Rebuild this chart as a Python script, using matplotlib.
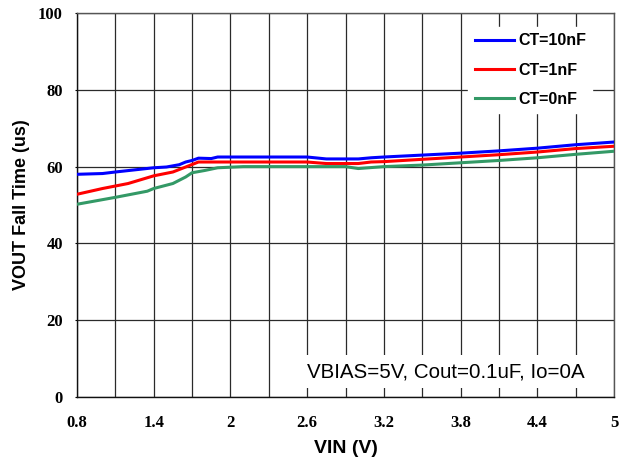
import numpy as np
import matplotlib.pyplot as plt

# VOUT fall time vs VIN for three CT values
vin_10n = [0.8, 1.0, 1.1, 1.4, 1.5, 1.6, 1.65, 1.7, 1.75, 1.85, 1.9, 2.6, 2.75, 3.0, 3.1, 3.2, 3.5, 3.8, 4.1, 4.4, 4.7, 5.0]
t_10n = [58.0, 58.2, 58.6, 59.7, 59.9, 60.5, 61.2, 61.6, 62.2, 62.1, 62.5, 62.5, 62.0, 62.0, 62.3, 62.5, 63.0, 63.5, 64.1, 64.8, 65.7, 66.4]

vin_1n = [0.8, 1.0, 1.2, 1.4, 1.55, 1.65, 1.75, 2.6, 2.75, 3.0, 3.1, 3.2, 3.5, 3.8, 4.1, 4.4, 4.7, 5.0]
t_1n = [52.8, 54.3, 55.6, 57.6, 58.6, 59.9, 61.2, 61.2, 60.8, 60.8, 61.2, 61.3, 61.9, 62.5, 63.1, 63.8, 64.7, 65.3]

vin_0n = [0.8, 1.1, 1.35, 1.4, 1.55, 1.65, 1.7, 1.8, 1.9, 2.1, 2.9, 3.0, 3.2, 3.5, 3.8, 4.1, 4.4, 4.7, 5.0]
t_0n = [50.2, 52.0, 53.6, 54.3, 55.6, 57.3, 58.4, 59.0, 59.7, 60.0, 60.0, 59.5, 60.0, 60.4, 61.0, 61.6, 62.3, 63.2, 64.0]

x_ticks = [0.8, 1.4, 2, 2.6, 3.2, 3.8, 4.4, 5]
x_tick_labels = ["0.8", "1.4", "2", "2.6", "3.2", "3.8", "4.4", "5"]
y_ticks = [0, 20, 40, 60, 80, 100]

fig = plt.figure(figsize=(6.27, 4.63), dpi=100)
ax = fig.add_axes([0.1228, 0.1425, 0.8565, 0.8294])

ax.plot(vin_10n, t_10n, color="#0000ff", lw=2.2, label="CT=10nF", zorder=3)
ax.plot(vin_1n, t_1n, color="#ff0000", lw=2.2, label="CT=1nF", zorder=3)
ax.plot(vin_0n, t_0n, color="#339966", lw=2.2, label="CT=0nF", zorder=3)

ax.set_xlim(0.8, 5)
ax.set_ylim(0, 100)
ax.set_xticks(x_ticks)
ax.set_xticklabels(x_tick_labels)
ax.set_xticks(np.arange(0.8, 5.01, 0.3), minor=True)
ax.set_yticks(y_ticks)

ax.grid(True, which="both", axis="x", color="#2a2a2a", lw=0.9)
ax.grid(True, which="major", axis="y", color="#2a2a2a", lw=0.9)
ax.tick_params(axis="x", which="both", length=0, pad=13)
ax.tick_params(axis="y", length=1.5, direction="out", pad=8.6)
for lab in ax.get_xticklabels() + ax.get_yticklabels():
    lab.set_fontfamily("Liberation Serif")
    lab.set_fontweight("bold")
    lab.set_fontsize(12)

for s in ax.spines.values():
    s.set_color("#555555")
    s.set_linewidth(1.0)
ax.spines["left"].set_color("#111111")
ax.spines["bottom"].set_color("#111111")

ax.set_xlabel("VIN (V)", fontfamily="Liberation Sans", fontweight="bold", fontsize=14)
ax.set_ylabel("VOUT Fall Time (us)", fontfamily="Liberation Sans", fontweight="bold", fontsize=13)
ax.xaxis.set_label_coords(0.5, -0.113)
ax.yaxis.set_label_coords(-0.087, 0.5)

leg = ax.legend(loc="upper left", bbox_to_anchor=(0.714, 0.985), frameon=True, fancybox=False,
                handlelength=2.45, handletextpad=0.25, labelspacing=0.9, borderpad=0.4,
                prop={"family": "Liberation Sans", "weight": "bold", "size": 11.5})
leg.get_frame().set_edgecolor("white")
leg.get_frame().set_facecolor("white")
leg.get_frame().set_alpha(1)
for h in leg.get_lines():
    h.set_linewidth(2.2)

ax.text(0.946, 0.066, "VBIAS=5V, Cout=0.1uF, Io=0A", transform=ax.transAxes, ha="right", va="center",
        fontfamily="Liberation Sans", fontsize=14.8, zorder=2,
        bbox=dict(facecolor="white", edgecolor="none", pad=5))

plt.savefig("out.png", dpi=100)
